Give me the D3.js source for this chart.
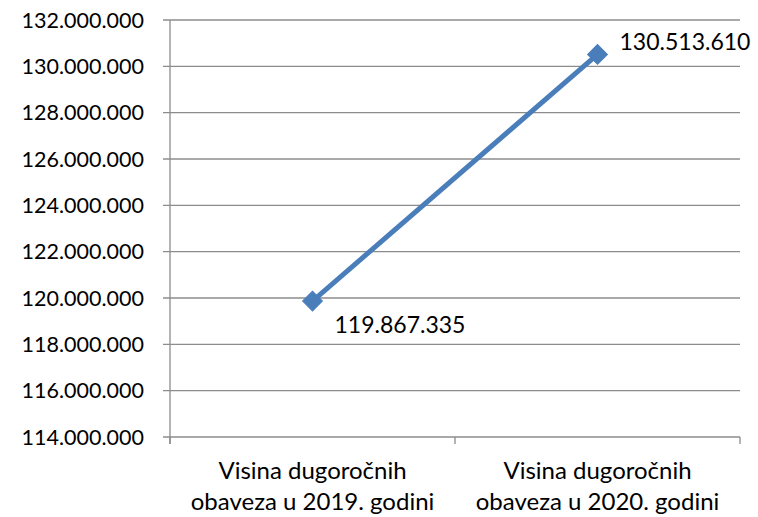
<!DOCTYPE html>
<html>
<head>
<meta charset="utf-8">
<script src="https://cdn.jsdelivr.net/npm/d3@7"></script>
<style>
  body { margin: 0; background: #fff; }
  svg text { font-family: Lato, "Open Sans", sans-serif; fill: #000; }
</style>
</head>
<body>
<svg id="chart" width="758" height="517"></svg>
<script>
// chart data
const categories = [
  ['Visina dugoročnih', 'obaveza u 2019. godini'],
  ['Visina dugoročnih', 'obaveza u 2020. godini']
];
const values = [119867335, 130513610];
const yTicks = [114000000, 116000000, 118000000, 120000000, 122000000, 124000000,
  126000000, 128000000, 130000000, 132000000];

const margin = { top: 20, right: 18, bottom: 80, left: 170 };
const width = 758, height = 517;
const chartW = width - margin.left - margin.right;
const chartH = height - margin.top - margin.bottom;

const fmt = v => d3.format(',')(v).replace(/,/g, '.');

const svg = d3.select('#chart');
const g = svg.append('g').attr('transform', `translate(${margin.left},${margin.top})`);

const x = d3.scaleBand().domain(d3.range(categories.length)).range([0, chartW]);
const y = d3.scaleLinear().domain([114000000, 132000000]).range([chartH, 0]);

// gridlines
g.append('g').selectAll('line')
  .data(yTicks)
  .join('line')
  .attr('x1', -7).attr('x2', chartW)
  .attr('y1', d => y(d)).attr('y2', d => y(d))
  .attr('stroke', '#8c8c8c').attr('stroke-width', 1.3);

// y axis line + labels
g.append('line')
  .attr('x1', 0).attr('x2', 0).attr('y1', 0).attr('y2', chartH + 7)
  .attr('stroke', '#8c8c8c').attr('stroke-width', 1.3);

g.append('g').selectAll('text')
  .data(yTicks)
  .join('text')
  .attr('x', -26).attr('y', d => y(d))
  .attr('dy', '0.35em')
  .attr('text-anchor', 'end')
  .style('font-size', '21.5px')
  .text(fmt);

// x axis ticks
g.append('g').selectAll('line')
  .data(d3.range(categories.length + 1))
  .join('line')
  .attr('x1', i => i * x.bandwidth()).attr('x2', i => i * x.bandwidth())
  .attr('y1', chartH).attr('y2', chartH + 7)
  .attr('stroke', '#8c8c8c').attr('stroke-width', 1.3);

// category labels
const cat = g.append('g').selectAll('text')
  .data(categories)
  .join('text')
  .attr('text-anchor', 'middle')
  .attr('transform', (d, i) => `translate(${x(i) + x.bandwidth() / 2},${chartH + 42})`)
  .style('font-size', '24px');
cat.selectAll('tspan')
  .data(d => d)
  .join('tspan')
  .attr('x', 0)
  .attr('dy', (d, i) => i === 0 ? 0 : 31)
  .text(d => d);

// line
const cx = i => x(i) + x.bandwidth() / 2;
g.append('path')
  .datum(values)
  .attr('fill', 'none')
  .attr('stroke', '#4a7ebb')
  .attr('stroke-width', 5)
  .attr('d', d3.line().x((d, i) => cx(i)).y(d => y(d)));

// markers
g.append('g').selectAll('path')
  .data(values)
  .join('path')
  .attr('transform', (d, i) => `translate(${cx(i)},${y(d)}) rotate(45)`)
  .attr('d', 'M-7,-7H7V7H-7Z')
  .attr('fill', '#4a7ebb')
  .attr('stroke', '#4a7ebb')
  .attr('stroke-width', 1);

// data labels
g.append('g').selectAll('text')
  .data(values)
  .join('text')
  .attr('x', (d, i) => cx(i) + 22)
  .attr('y', (d, i) => y(d) + (i === 0 ? 24 : -12))
  .attr('dy', '0.35em')
  .style('font-size', '23px')
  .text(fmt);
</script>
</body>
</html>
